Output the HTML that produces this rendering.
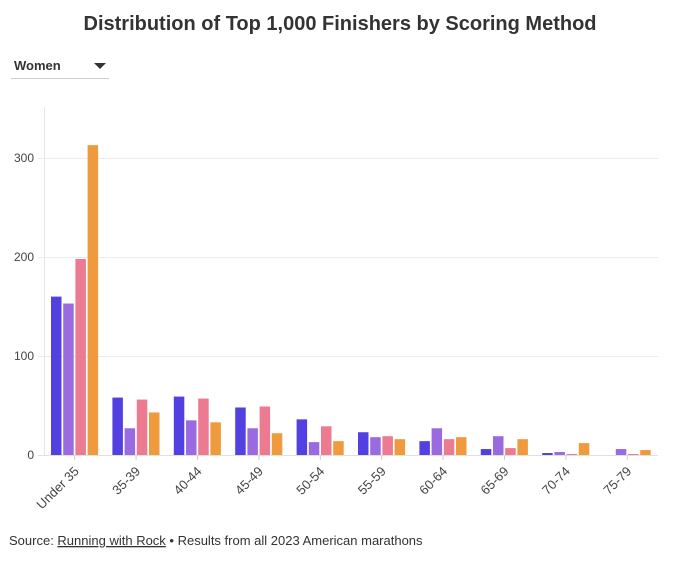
<!DOCTYPE html>
<html><head><meta charset="utf-8"><style>
body{margin:0;background:#fff;font-family:"Liberation Sans",sans-serif;}
</style></head><body>
<svg width="680" height="559" viewBox="0 0 680 559">
<text x="340" y="30" text-anchor="middle" font-size="20" font-weight="bold" fill="#333">Distribution of Top 1,000 Finishers by Scoring Method</text>
<g>
<text x="14" y="70" font-size="13" font-weight="bold" fill="#333">Women</text>
<path d="M94 63 L106 63 L100 69 Z" fill="#333"/>
<line x1="11" y1="78.5" x2="109" y2="78.5" stroke="#ccc"/>
</g>
<g id="grid"></g><g id="bars"></g><g id="xlab"></g>
<line x1="44.5" y1="107" x2="44.5" y2="455" stroke="#e5e5e5"/>
<text x="9" y="545" font-size="13" fill="#333">Source: <tspan text-decoration="underline">Running with Rock</tspan> • Results from all 2023 American marathons</text>
</svg>
<script>
const categories=["Under 35","35-39","40-44","45-49","50-54","55-59","60-64","65-69","70-74","75-79"];
const seriesA=[160,58,59,48,36,23,14,6,2,0];
const seriesB=[153,27,35,27,13,18,27,19,3,6];
const seriesC=[198,56,57,49,29,19,16,7,1,1];
const seriesD=[313,43,33,22,14,16,18,16,12,5];
const yTicks=[0,100,200,300];
const colors=["#5340e0","#9a6ae0","#ec7a90","#f09a3e"];
const series=[seriesA,seriesB,seriesC,seriesD];
const NS="http://www.w3.org/2000/svg";
const x0=44,x1=658,y0=455,k=0.99;
const bw=(x1-x0)/categories.length;
const y=v=>y0-v*k;
const xb=i=>x0+i*bw;
const grid=document.getElementById('grid'),bars=document.getElementById('bars'),xl=document.getElementById('xlab');
yTicks.forEach(t=>{
 const l=document.createElementNS(NS,'line');
 l.setAttribute('x1',38);l.setAttribute('x2',x1);l.setAttribute('y1',y(t)+0.5);l.setAttribute('y2',y(t)+0.5);
 l.setAttribute('stroke',t===0?'#e0e0e0':'#ececec');
 
 
 grid.appendChild(l);
 const tx=document.createElementNS(NS,'text');
 tx.setAttribute('x',34);tx.setAttribute('y',y(t)+4);tx.setAttribute('text-anchor','end');tx.setAttribute('font-size','12');tx.setAttribute('fill','#444');
 tx.textContent=t;
 
 
 grid.appendChild(tx);
});
categories.forEach((c,i)=>{
 series.forEach((s,j)=>{
  const r=document.createElementNS(NS,'rect');
  const v=s[i];
  r.setAttribute('x',xb(i)+7+j*12.2);r.setAttribute('width',10.5);
  r.setAttribute('y',y(v));r.setAttribute('height',Math.max(0,v*k));
  r.setAttribute('fill',colors[j]);
  
  
  bars.appendChild(r);
 });
 const cx=xb(i)+bw/2;
 const tk=document.createElementNS(NS,'line');
 tk.setAttribute('x1',cx);tk.setAttribute('x2',cx);tk.setAttribute('y1',y0);tk.setAttribute('y2',y0+5);tk.setAttribute('stroke','#ccc');
 
 
 xl.appendChild(tk);
 const t=document.createElementNS(NS,'text');
 t.setAttribute('transform',`translate(${cx+5},${y0+17}) rotate(-45)`);
 t.setAttribute('text-anchor','end');t.setAttribute('font-size','13');t.setAttribute('fill','#444');
 t.textContent=c;
 
 
 xl.appendChild(t);
});
</script>
</body></html>
